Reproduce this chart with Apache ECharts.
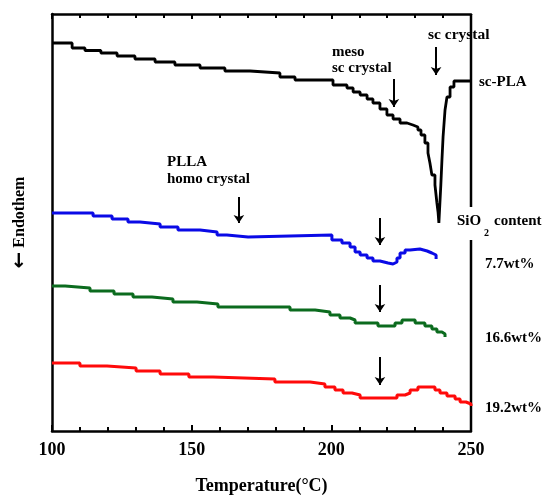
<!DOCTYPE html>
<html>
<head>
<meta charset="utf-8">
<script src="https://cdn.jsdelivr.net/npm/echarts@6/dist/echarts.min.js"></script>
<style>
html,body{margin:0;padding:0;background:#fff;}
#chart{width:546px;height:495px;}
</style>
</head>
<body>
<div id="chart"></div>
<script>
// Temperature (°C) and heat flow (arbitrary units, offset curves)
const scPLA_T = [100,107.2,111.8,117.5,123.3,129.7,136.9,144.0,153.0,161.9,170.9,181.6,187.0,200.6,205.6,207.8,210.3,212.8,214.9,217.4,219.9,222.1,224.6,227.1,229.2,231.0,232.1,233.5,234.6,235.3,236.0,237.1,237.8,238.2,238.5,238.9,239.2,239.6,240.0,240.7,241.4,242.5,243.9,250];
const scPLA_H = [388,383,380.5,378,375,372,369,366,363,360,358,354,351,346,343,339,336,332,328,322,316,312,308,306,304,301,296,288,278,268,256,246,228,219,208,208,246,271,294,321,334,344,350,350];

const si77_T = [100,114.7,121.5,127.2,131.5,138.7,145.1,153.0,159.1,162.6,170.2,200.2,203.8,206.7,208.5,210.3,212.8,214.9,217.4,220.3,222.1,223.5,224.6,226.4,228.2,231.7,234.3,236.0,237.5];
const si77_H = [218,215,212,209,207,204,201,199,196,194,196,191,188,184,179,176,173,170,168,167,169,173,178,181,182,180,178,176,172];

const si166_T = [100,104.7,113.6,122.2,129.0,135.8,143.3,151.9,159.4,185.2,194.2,199.5,203.1,206.7,208.5,216.7,222.8,225.3,230.0,233.5,236.0,237.8,239.6,240.7];
const si166_H = [145,143,140,137,134,132,129,127,124,121,119,116,113,111,108,105,108,111,108,105,102,99,97,94];

const si192_T = [100,110.0,119.7,130.1,138.7,149.0,157.6,179.8,192.4,197.7,201.3,204.2,207.4,210.3,223.5,226.4,228.2,231.0,237.1,238.9,241.4,244.3,246.1,248.2,250];
const si192_H = [68,65,63,60,57,54,52,49,47,44,41,38,36,33,36,38,41,44,41,38,35,32,29,27,25];

const xTicks = [100,150,200,250];

// annotation arrows: [temperature, from, to]
const arrowT = [237.5,222.4,166.9,217.4,217.4,217.4];
const arrowFrom = [384,352,234,213,146,74];
const arrowTo = [356,324,208,186,119,46];

const zip = (a,b)=>a.map((v,i)=>[v,b[i]]);
const FONT = '"Liberation Serif","Times New Roman",serif';

const chart = echarts.init(document.getElementById('chart'));

const lineSeries = (name, T, H, color, w) => ({
  name, type:'line', step:'end', data: zip(T,H), showSymbol:false, symbol:'none',
  lineStyle:{color, width:w}, animation:false, silent:true, z:3
});

const option = {
  backgroundColor:'#fff',
  animation:false,
  grid:{left:52,right:75,top:14,bottom:64,containLabel:false,outerBoundsMode:'none'},
  xAxis:[{
    type:'value', min:100, max:250, interval:50, position:'bottom',
    name:'Temperature(°C)', nameLocation:'middle', nameGap:46,
    nameTextStyle:{fontFamily:FONT,fontWeight:'bold',fontSize:18,color:'#000'},
    axisLine:{show:true,lineStyle:{color:'#000',width:2.5}},
    axisTick:{show:true,inside:true,length:6,lineStyle:{color:'#000',width:2}},
    minorTick:{show:true,splitNumber:5,length:4,lineStyle:{color:'#000',width:2}},
    axisLabel:{show:true,margin:10,fontFamily:FONT,fontWeight:'bold',fontSize:18,color:'#000',
      formatter:v=>xTicks.includes(v)?String(v):''},
    splitLine:{show:false}
  },{
    type:'value', min:100, max:250, interval:50, position:'top',
    axisLine:{show:true,lineStyle:{color:'#000',width:2.5}},
    axisTick:{show:true,inside:true,length:5,lineStyle:{color:'#000',width:2}},
    minorTick:{show:true,splitNumber:5,length:4,lineStyle:{color:'#000',width:2}},
    axisLabel:{show:false}, splitLine:{show:false}
  }],
  yAxis:{
    type:'value', min:0, max:417,
    name:'{a|←}{b|Endothem}', nameLocation:'middle', nameGap:22, nameRotate:90,
    nameTextStyle:{fontFamily:FONT,fontWeight:'bold',fontSize:16,color:'#000',
      rich:{
        a:{fontFamily:'DejaVu Sans',fontWeight:'bold',fontSize:20,color:'#000',padding:[0,4,0,0]},
        b:{fontFamily:FONT,fontWeight:'bold',fontSize:16,color:'#000'}
      }},
    axisLine:{show:true,lineStyle:{color:'#000',width:2.5}},
    axisTick:{show:false}, axisLabel:{show:false}, splitLine:{show:false}
  },
  series:[
    lineSeries('sc-PLA', scPLA_T, scPLA_H, '#000000', 2.8),
    lineSeries('7.7wt%', si77_T, si77_H, '#0a0ae6', 3),
    lineSeries('16.6wt%', si166_T, si166_H, '#0b6b1e', 3),
    lineSeries('19.2wt%', si192_T, si192_H, '#ff0a0a', 3),
    {
      type:'line', data:[], silent:true, animation:false,
      markLine:{
        silent:true, animation:false,
        symbol:['none','arrow'], symbolSize:8,
        label:{show:false},
        lineStyle:{color:'#000',width:2,type:'solid'},
        data: arrowT.map((t,i)=>[{coord:[t,arrowFrom[i]]},{coord:[t,arrowTo[i]]}])
      }
    }
  ]
};
chart.setOption(option);

// right border with a gap for the "SiO2 content" heading
const rt = chart.convertToPixel({gridIndex:0},[250,417]);
const rgTop = chart.convertToPixel({gridIndex:0},[250,224]);
const rgBot = chart.convertToPixel({gridIndex:0},[250,191]);
const rb = chart.convertToPixel({gridIndex:0},[250,0]);

const txt = (text,x,y,size,align) => ({
  type:'text', x, y, silent:true,
  style:{text, fontFamily:FONT, fontWeight:'bold', fontSize:size||15, fill:'#000',
    textAlign:align||'left', textVerticalAlign:'middle'}
});

chart.setOption({
  graphic:[
    {type:'line', silent:true, shape:{x1:rt[0],y1:rt[1],x2:rgTop[0],y2:rgTop[1]}, style:{stroke:'#000',lineWidth:2.5}},
    {type:'line', silent:true, shape:{x1:rgBot[0],y1:rgBot[1],x2:rb[0],y2:rb[1]}, style:{stroke:'#000',lineWidth:2.5}},
    txt('sc crystal',428,35,15.5),
    txt('meso',332,52,15),
    txt('sc crystal',332,68,15),
    txt('sc-PLA',479,82,15),
    txt('PLLA',167,162,15),
    txt('homo crystal',167,179,15),
    txt('SiO',457,221,15),
    txt('2',484,233,10),
    txt('content',494,221,15),
    txt('7.7wt%',485,264,15),
    txt('16.6wt%',485,338,15),
    txt('19.2wt%',485,408,15)
  ]
});
</script>
</body>
</html>
